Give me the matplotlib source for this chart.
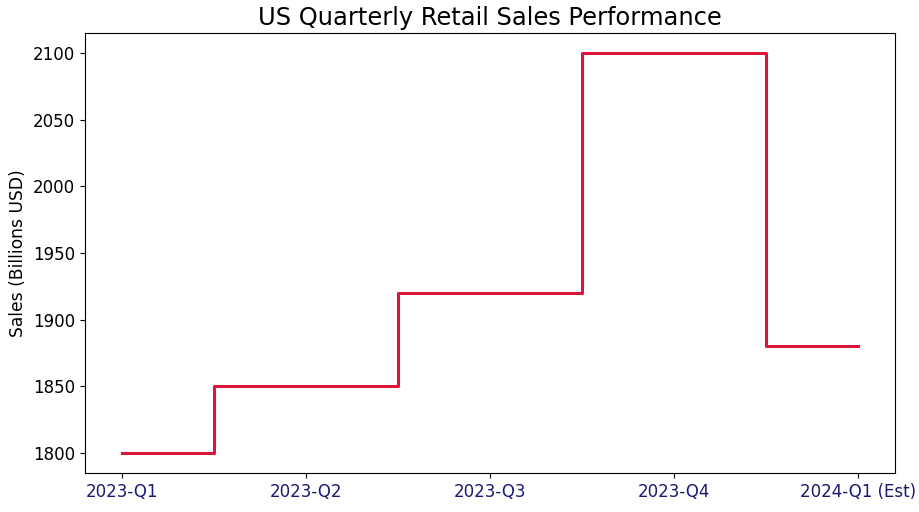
import matplotlib
matplotlib.use("Agg")
import matplotlib.pyplot as plt

quarters = ["2023-Q1", "2023-Q2", "2023-Q3", "2023-Q4", "2024-Q1 (Est)"]
sales = [1800, 1850, 1920, 2100, 1880]

fig, ax = plt.subplots(figsize=(9.2, 5.12), dpi=100)
fig.subplots_adjust(left=0.0924, right=0.973, top=0.9355, bottom=0.0762)

ax.step(quarters, sales, where="mid", color="crimson", lw=2.2)

ax.set_title("US Quarterly Retail Sales Performance", fontsize=17.4)
ax.set_ylabel("Sales (Billions USD)", fontsize=12.3)
ax.tick_params(axis="x", labelsize=12, labelcolor="midnightblue")
ax.tick_params(axis="y", labelsize=12)

fig.savefig("out.png", dpi=100)
